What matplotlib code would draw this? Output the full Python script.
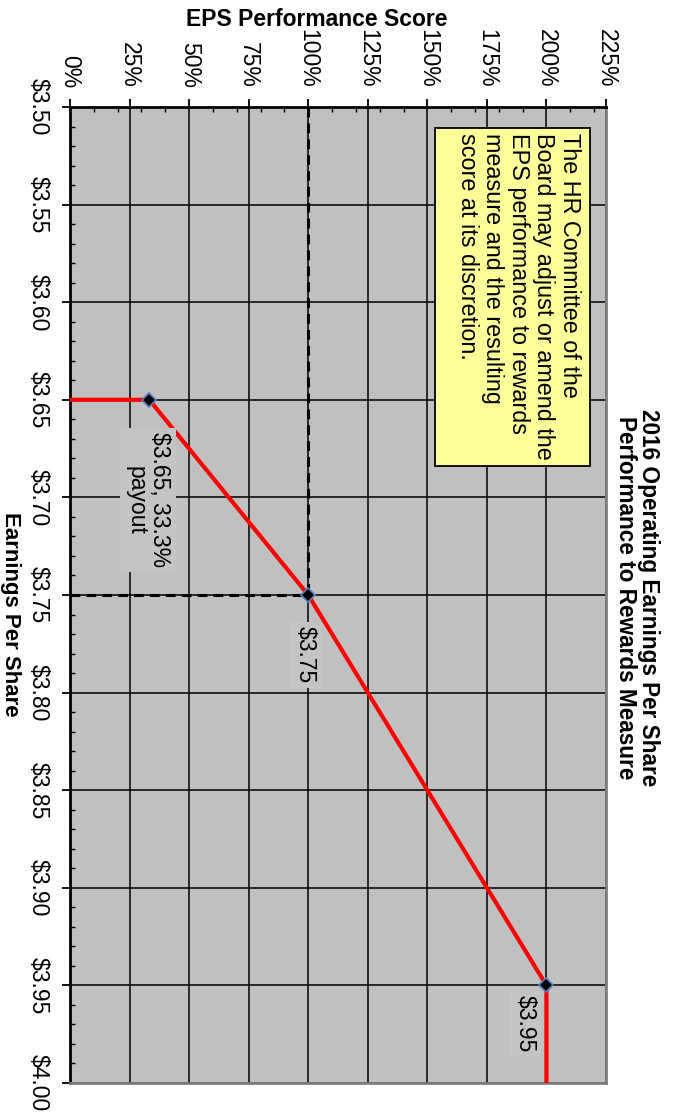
import matplotlib
matplotlib.use('Agg')
import matplotlib.pyplot as plt
from matplotlib.patches import Rectangle
from matplotlib.ticker import FixedLocator, MultipleLocator

plt.rcParams['font.family'] = ['Liberation Sans', 'DejaVu Sans']

# --- chart data (score on the horizontal axis, EPS running down the page) ---
eps_values = [3.65, 3.65, 3.75, 3.95, 4.00]
score_values = [0.0, 33.3, 100.0, 200.0, 200.0]

# points that get a marker: threshold, target, maximum
marker_eps = [3.65, 3.75, 3.95]
marker_score = [33.3, 100.0, 200.0]

target_eps = 3.75
target_score = 100.0

eps_ticks = [3.50, 3.55, 3.60, 3.65, 3.70, 3.75, 3.80, 3.85, 3.90, 3.95, 4.00]
eps_tick_labels = ['$3.50', '$3.55', '$3.60', '$3.65', '$3.70', '$3.75',
                   '$3.80', '$3.85', '$3.90', '$3.95', '$4.00']
score_ticks = [0, 25, 50, 75, 100, 125, 150, 175, 200, 225]
score_tick_labels = ['0%', '25%', '50%', '75%', '100%', '125%', '150%',
                     '175%', '200%', '225%']

title = '2016 Operating Earnings Per Share\nPerformance to Rewards Measure'
note = ('The HR Committee of the\nBoard may adjust or amend the\n'
        'EPS performance to rewards\nmeasure and the resulting\n'
        'score at its discretion.')

fig = plt.figure(figsize=(6.73, 11.2), dpi=100)
ax = fig.add_axes([70 / 673, 1 - 1083 / 1120, 536 / 673, 976 / 1120])
ax.set_facecolor('#C0C0C0')

ax.set_xlim(0, 225)
ax.set_ylim(4.00, 3.50)

# axes / ticks
ax.xaxis.tick_top()
ax.xaxis.set_major_locator(FixedLocator(score_ticks))
ax.set_xticklabels(score_tick_labels)
ax.xaxis.set_minor_locator(MultipleLocator(10))
ax.yaxis.set_major_locator(FixedLocator(eps_ticks))
ax.set_yticklabels(eps_tick_labels)
ax.yaxis.set_minor_locator(MultipleLocator(0.01))

ax.tick_params(which='major', direction='out', length=5.8, width=1.3,
               labelsize=16.5, color='black')
ax.tick_params(which='minor', direction='in', length=3.6, width=1.0, color='black')
ax.tick_params(axis='x', which='both', top=True, bottom=False, labelrotation=-90, pad=8)
ax.tick_params(axis='y', which='both', left=True, right=False, labelrotation=-90, pad=9)
for lab in ax.get_yticklabels():
    lab.set_va('center')

ax.grid(True, which='major', color='black', linewidth=1.1)
ax.set_axisbelow(True)

for side in ['top', 'left']:
    ax.spines[side].set_color('black')
    ax.spines[side].set_linewidth(2.0)
for side in ['right', 'bottom']:
    ax.spines[side].set_color('#808080')
    ax.spines[side].set_linewidth(2.0)

# dashed guides to the target point
ax.plot([target_score, target_score], [3.50, target_eps], color='black',
        linewidth=2.2, dashes=(3.2, 2.0), zorder=3)
ax.plot([0, target_score], [target_eps, target_eps], color='black',
        linewidth=2.2, dashes=(3.2, 2.0), zorder=3)

# payout curve
ax.plot(score_values, eps_values, color='#FF0000', linewidth=3.0,
        solid_capstyle='butt', zorder=4)
ax.plot(marker_score, marker_eps, linestyle='none', marker='D', markersize=7.5,
        markerfacecolor='black', markeredgecolor='#4F81BD', markeredgewidth=1.2,
        zorder=5)

# data labels
lbl_box = dict(boxstyle='square,pad=0.2', facecolor='#C4C4C4', edgecolor='none')
ax.text(32.7, 3.7013, '$3.65, 33.3%\npayout', rotation=-90, ha='center',
        va='center', multialignment='center', fontsize=16.5, linespacing=1.05,
        bbox=lbl_box, zorder=6)
ax.text(98.6, 3.7807, '$3.75', rotation=-90, ha='center', va='center',
        fontsize=16.5, bbox=lbl_box, zorder=6)
ax.text(191.0, 3.9698, '$3.95', rotation=-90, ha='center', va='center',
        fontsize=16.5, bbox=lbl_box, zorder=6)

# note box
ax.add_patch(Rectangle((153.2, 3.5108), 65.1, 0.1732, facecolor='#FFFF99',
                       edgecolor='black', linewidth=1.3, zorder=6))
ax.text(214.3, 3.5133, note, rotation=-90, rotation_mode='anchor', ha='left',
        va='top', fontsize=16.8, linespacing=1.13, zorder=7)

# titles
fig.text(637 / 673, 1 - 598 / 1120, title, rotation=-90, ha='center', va='center',
         multialignment='center', fontsize=16.3, fontweight='bold', linespacing=1.0)
fig.text(317 / 673, 1 - 20 / 1120, 'EPS Performance Score', ha='center',
         va='center', fontsize=16.5, fontweight='bold')
fig.text(10 / 673, 1 - 614 / 1120, 'Earnings Per Share', rotation=-90,
         ha='center', va='center', fontsize=16, fontweight='bold')

fig.savefig('out.png', dpi=100, facecolor='white')
